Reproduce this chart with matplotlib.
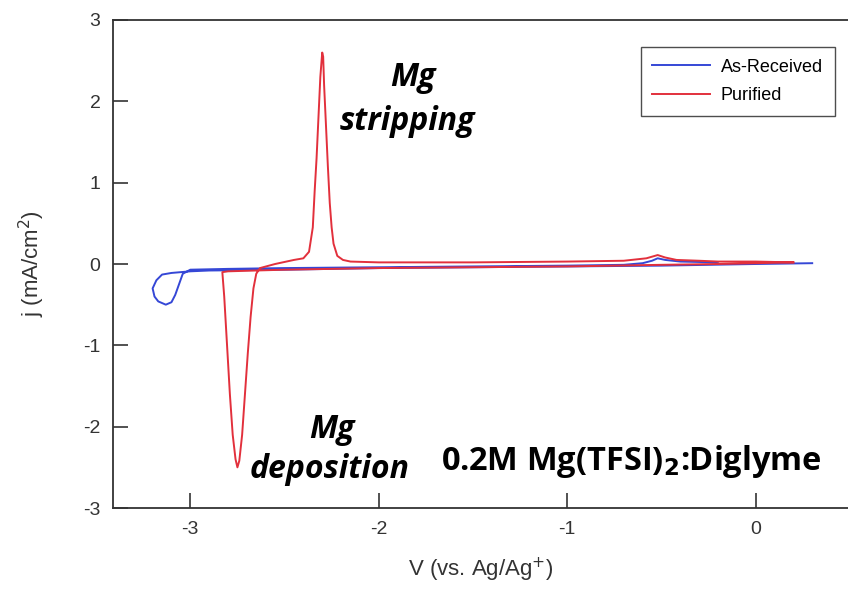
import matplotlib
matplotlib.use('Agg')
import matplotlib.pyplot as plt

# ---------------------------------------------------------------
# data (V vs Ag/Ag+, j in mA/cm2)
# ---------------------------------------------------------------
as_received_v = [0.30, 0.0, -0.5, -1.0, -1.5, -2.0, -2.5, -2.9, -3.0, -3.1, -3.15,
                 -3.18, -3.20, -3.19, -3.17, -3.13, -3.10, -3.08, -3.06, -3.04,
                 -3.0, -2.8, -2.5, -2.0, -1.5, -1.0, -0.7, -0.6, -0.55, -0.52,
                 -0.48, -0.4, -0.3, -0.22, -0.2]
as_received_j = [0.01, 0.0, -0.02, -0.03, -0.04, -0.05, -0.07, -0.08, -0.09, -0.11,
                 -0.13, -0.20, -0.30, -0.40, -0.46, -0.50, -0.47, -0.38, -0.25,
                 -0.12, -0.07, -0.06, -0.05, -0.04, -0.03, -0.02, -0.01, 0.01,
                 0.04, 0.07, 0.05, 0.03, 0.025, 0.02, 0.01]

purified_v = [0.20, 0.0, -0.2, -0.5, -1.0, -1.5, -2.0, -2.5, -2.8, -2.83,
              -2.82, -2.805, -2.79, -2.775, -2.76, -2.75, -2.74, -2.725, -2.71,
              -2.695, -2.68, -2.665, -2.65, -2.63, -2.55, -2.45, -2.40, -2.37,
              -2.35, -2.34, -2.33, -2.32, -2.31, -2.30, -2.295, -2.29, -2.28,
              -2.27, -2.26, -2.25, -2.24, -2.22, -2.19, -2.15, -2.0, -1.5, -1.0,
              -0.7, -0.58, -0.52, -0.48, -0.42, -0.3, -0.2, 0.0, 0.20]
purified_j = [0.02, 0.01, 0.0, -0.01, -0.03, -0.04, -0.05, -0.07, -0.09, -0.10,
              -0.4, -1.0, -1.6, -2.1, -2.4, -2.50, -2.42, -2.1, -1.6,
              -1.1, -0.65, -0.3, -0.12, -0.05, 0.0, 0.05, 0.07, 0.15,
              0.45, 0.9, 1.3, 1.8, 2.3, 2.60, 2.55, 2.2, 1.7,
              1.2, 0.75, 0.45, 0.25, 0.10, 0.05, 0.03, 0.02, 0.02, 0.03,
              0.04, 0.07, 0.11, 0.08, 0.05, 0.04, 0.03, 0.03, 0.02]

x_ticks = [-3, -2, -1, 0]
y_ticks = [-3, -2, -1, 0, 1, 2, 3]

plt.rcParams['axes.unicode_minus'] = False
plt.rcParams['font.family'] = ['Liberation Sans', 'DejaVu Sans']

fig = plt.figure(figsize=(8.48, 5.95), dpi=100)
ax = fig.add_axes([0.1333, 0.1462, 0.8667, 0.8202])

ax.plot(as_received_v, as_received_j, color='#3547d6', lw=1.4, label='As-Received')
ax.plot(purified_v, purified_j, color='#e2303c', lw=1.4, label='Purified')

ax.set_xlim(-3.41, 0.49)
ax.set_ylim(-3, 3)
ax.set_xticks(x_ticks)
ax.set_yticks(y_ticks)
ax.tick_params(direction='in', length=11, width=1.2, labelsize=14,
               colors='#333333', pad=9)
ax.spines['right'].set_visible(False)
for s in ['left', 'bottom', 'top']:
    ax.spines[s].set_linewidth(1.3)
    ax.spines[s].set_color('#333333')

ax.set_xlabel('V (vs. Ag/Ag$^{+}$)', fontsize=16, color='#333333', labelpad=13)
ax.set_ylabel('j (mA/cm$^{2}$)', fontsize=16, color='#333333', labelpad=26)

leg = ax.legend(loc='upper right', bbox_to_anchor=(0.982, 0.945),
                prop={'size': 13}, frameon=True, fancybox=False,
                handlelength=3.2, borderpad=0.65, labelspacing=0.65,
                handletextpad=0.6, borderaxespad=0.0)
leg.get_frame().set_edgecolor('#222222')
leg.get_frame().set_linewidth(1.0)

# annotations
ann = dict(family=['Open Sans', 'DejaVu Sans'], fontsize=23, fontweight='bold',
           ha='center', va='center')
ax.text(-1.82, 2.29, 'Mg', style='italic', **ann)
ax.text(-1.85, 1.75, 'stripping', style='italic', **ann)
ax.text(-2.25, -2.04, 'Mg', style='italic', **ann)
ax.text(-2.26, -2.53, 'deposition', style='italic', **ann)
ann['ha'] = 'left'
ann['fontsize'] = 23.5
ax.text(-1.67, -2.43, '0.2M Mg(TFSI)$_\\mathbf{2}$:Diglyme', **ann)

fig.savefig('out.png', dpi=100)
